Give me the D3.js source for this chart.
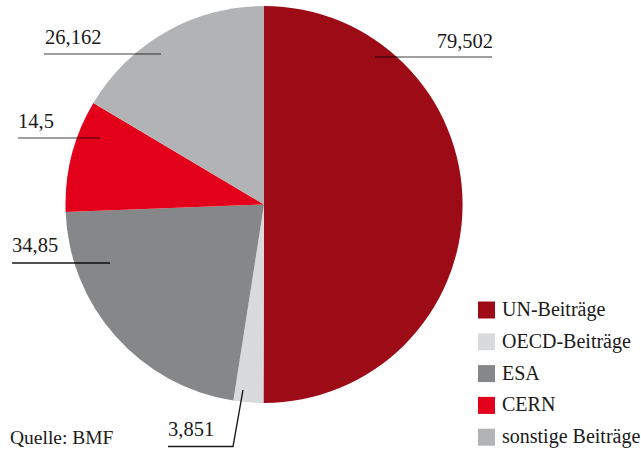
<!DOCTYPE html>
<html><head><meta charset="utf-8">
<script src="https://cdn.jsdelivr.net/npm/d3@7/dist/d3.min.js"></script>
<style>html,body{margin:0;padding:0;background:#fff;}svg{display:block;}</style>
</head><body>
<svg id="chart" width="641" height="450"></svg>
<script>
const categories = ["UN-Beiträge", "OECD-Beiträge", "ESA", "CERN", "sonstige Beiträge"];
const values = [79.502, 3.851, 34.85, 14.5, 26.162];
const valueLabels = ["79,502", "3,851", "34,85", "14,5", "26,162"];
const colors = ["#9d0b16", "#d9dadc", "#868789", "#e3001b", "#b2b3b5"];

// label layout (annotation positions)
const labelLayout = [
  {tx: 493, ty: 48, anchor: "end", line: [[375,57],[492,57]], op: 0.5},
  {tx: 168, ty: 436, anchor: "start", line: [[168,446.5],[233,446.5],[243,390]], op: 0.9},
  {tx: 12, ty: 252, anchor: "start", line: [[12,263],[110,263]], op: 0.9},
  {tx: 18, ty: 128, anchor: "start", line: [[18,138],[100,138]], op: 0.5},
  {tx: 45, ty: 44, anchor: "start", line: [[44,54],[161,54]], op: 0.5}
];

const svg = d3.select("#chart");
const cx = 264, cy = 204.5, r = 198.5;

const data = categories.map((c, i) => ({name: c, value: values[i], label: valueLabels[i], color: colors[i], layout: labelLayout[i]}));

const pie = d3.pie().value(d => d.value).sort(null).startAngle(0).endAngle(2 * Math.PI);
const arc = d3.arc().innerRadius(0).outerRadius(r);

const g = svg.append("g").attr("transform", `translate(${cx},${cy})`);
g.selectAll("path").data(pie(data)).join("path")
  .attr("d", arc)
  .attr("fill", d => d.data.color);

const line = d3.line();
svg.selectAll("path.leader").data(data).join("path")
  .attr("class", "leader")
  .attr("d", d => line(d.layout.line))
  .attr("fill", "none")
  .attr("stroke", "#000")
  .attr("stroke-opacity", d => d.layout.op)
  .attr("stroke-width", 1.4);

svg.selectAll("text.val").data(data).join("text")
  .attr("class", "val")
  .attr("x", d => d.layout.tx)
  .attr("y", d => d.layout.ty)
  .attr("text-anchor", d => d.layout.anchor)
  .attr("font-family", "Liberation Serif, serif")
  .attr("font-size", 20.5)
  .attr("fill", "#1a1a1a")
  .text(d => d.label);

// legend
const lg = svg.append("g").attr("transform", "translate(478,301.5)");
const item = lg.selectAll("g").data(data).join("g")
  .attr("transform", (d, i) => `translate(0,${i * 31.8})`);
item.append("rect").attr("width", 17).attr("height", 17).attr("fill", d => d.color);
item.append("text")
  .attr("x", 24).attr("y", 14.5)
  .attr("font-family", "Liberation Serif, serif")
  .attr("font-size", 20)
  .attr("fill", "#1a1a1a")
  .text(d => d.name);

svg.append("text")
  .attr("x", 10).attr("y", 443.5)
  .attr("font-family", "Liberation Serif, serif")
  .attr("font-size", 19.5)
  .attr("fill", "#1a1a1a")
  .text("Quelle: BMF");
</script>
</body></html>
